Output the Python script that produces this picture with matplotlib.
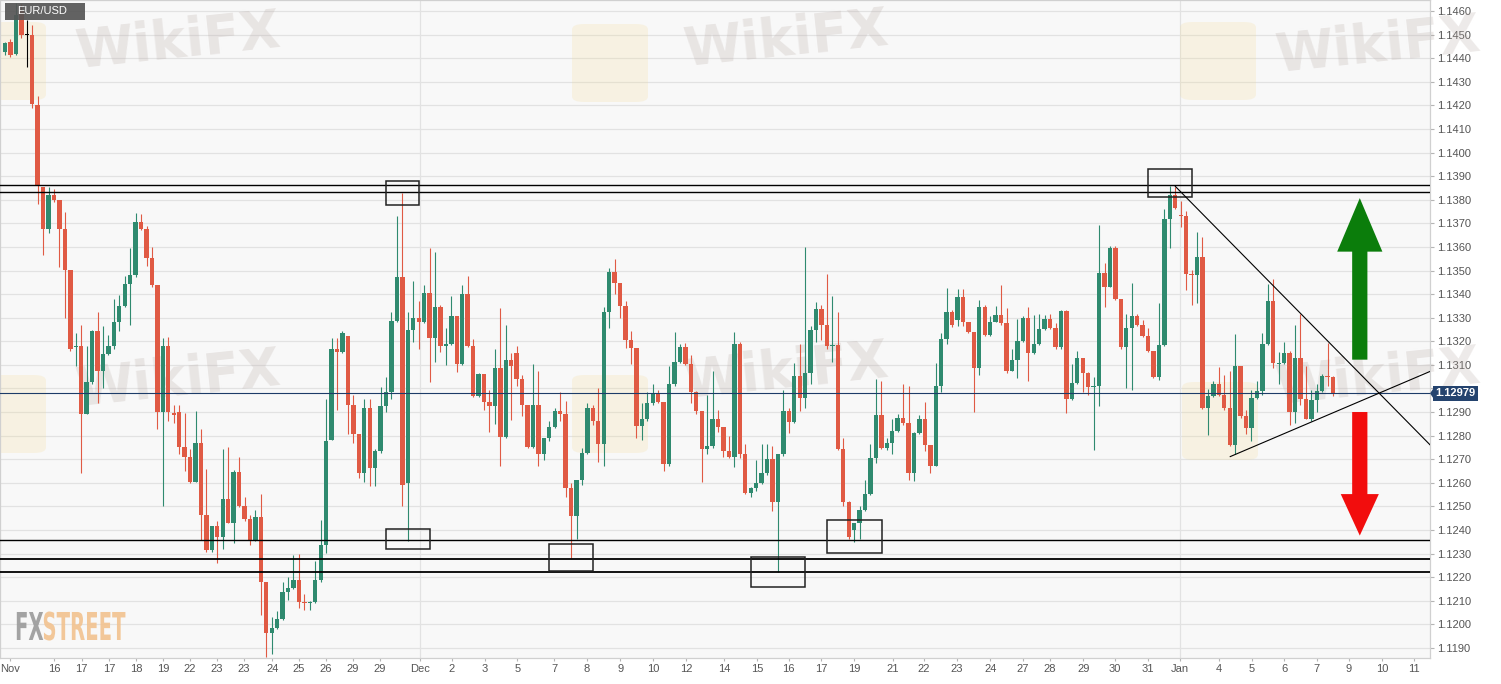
import numpy as np
import matplotlib
matplotlib.use("Agg")
import matplotlib.pyplot as plt
from matplotlib.patches import Rectangle, Polygon, PathPatch, FancyBboxPatch
from matplotlib.textpath import TextPath
from matplotlib.font_manager import FontProperties
from matplotlib.transforms import Affine2D, IdentityTransform, blended_transform_factory
from matplotlib.ticker import FuncFormatter

plt.rcParams['font.family'] = ['Liberation Sans', 'DejaVu Sans']

# EUR/USD 4h candles
opens = [1.14427, 1.14470, 1.14420, 1.14600, 1.14498, 1.14498, 1.14200, 1.13854, 1.13674, 1.13822,
         1.13798, 1.13674, 1.13502, 1.13174, 1.13178, 1.12891, 1.13026, 1.13243, 1.13076, 1.13146,
         1.13178, 1.13280, 1.13348, 1.13443, 1.13480, 1.13706, 1.13678, 1.13552, 1.13437, 1.12900,
         1.13178, 1.12894, 1.12900, 1.12752, 1.12709, 1.12604, 1.12767, 1.12465, 1.12317, 1.12415,
         1.12372, 1.12530, 1.12431, 1.12646, 1.12502, 1.12446, 1.12357, 1.12456, 1.12178, 1.11965,
         1.11983, 1.12024, 1.12137, 1.12154, 1.12187, 1.12094, 1.12089, 1.12094, 1.12187, 1.12335,
         1.12783, 1.13169, 1.13154, 1.13222, 1.12928, 1.12807, 1.12641, 1.12919, 1.12663, 1.12733,
         1.12924, 1.12983, 1.13287, 1.13474, 1.12600, 1.13246, 1.13298, 1.13280, 1.13406, 1.13213,
         1.13344, 1.13178, 1.13187, 1.13307, 1.13102, 1.13400, 1.13178, 1.12969, 1.13061, 1.12941,
         1.12924, 1.13085, 1.12794, 1.13119, 1.13150, 1.13039, 1.12928, 1.12752, 1.12928, 1.12724,
         1.12789, 1.12835, 1.12906, 1.12891, 1.12576, 1.12461, 1.12613, 1.12728, 1.12919, 1.12863,
         1.12765, 1.13326, 1.13493, 1.13446, 1.13348, 1.13206, 1.13172, 1.12841, 1.12869, 1.12937,
         1.12980, 1.12943, 1.12678, 1.13017, 1.13113, 1.13174, 1.13104, 1.12983, 1.12904, 1.12743,
         1.12757, 1.12872, 1.12835, 1.12733, 1.12709, 1.13187, 1.12724, 1.12557, 1.12576, 1.12598,
         1.12641, 1.12702, 1.12520, 1.12720, 1.12906, 1.12857, 1.13054, 1.12961, 1.13067, 1.13248,
         1.13335, 1.13270, 1.13181, 1.13185, 1.12743, 1.12520, 1.12400, 1.12428, 1.12483, 1.12552,
         1.12706, 1.12887, 1.12746, 1.12770, 1.12820, 1.12876, 1.12854, 1.12641, 1.12813, 1.12869,
         1.12761, 1.12672, 1.13011, 1.13209, 1.13326, 1.13290, 1.13387, 1.13283, 1.13239, 1.13085,
         1.13344, 1.13228, 1.13283, 1.13313, 1.13276, 1.13076, 1.13122, 1.13200, 1.13298, 1.13150,
         1.13187, 1.13252, 1.13293, 1.13257, 1.13174, 1.13330, 1.12956, 1.13024, 1.13128, 1.13067,
         1.13006, 1.13011, 1.13489, 1.13431, 1.13594, 1.13381, 1.13174, 1.13257, 1.13307, 1.13270,
         1.13224, 1.13159, 1.13048, 1.13183, 1.13720, 1.13820, 1.13735, 1.13730, 1.13487, 1.13480,
         1.13557, 1.12919, 1.12969, 1.13017, 1.12974, 1.12915, 1.12761, 1.13094, 1.12881, 1.12831,
         1.12961, 1.12987, 1.13187, 1.13372, 1.13102, 1.13107, 1.13150, 1.12900, 1.13131, 1.12956,
         1.12872, 1.12950, 1.12987, 1.13054, 1.13048]

highs = [1.14470, 1.14480, 1.14635, 1.14630, 1.14562, 1.14539, 1.14239, 1.13854, 1.13854, 1.13844,
         1.13798, 1.13748, 1.13502, 1.13233, 1.13270, 1.13178, 1.13248, 1.13322, 1.13265, 1.13228,
         1.13380, 1.13398, 1.13478, 1.13594, 1.13743, 1.13739, 1.13687, 1.13600, 1.13437, 1.13215,
         1.13220, 1.12928, 1.12928, 1.12894, 1.12743, 1.12906, 1.12826, 1.12659, 1.12415, 1.12437,
         1.12743, 1.12752, 1.12654, 1.12711, 1.12539, 1.12465, 1.12483, 1.12554, 1.12178, 1.12030,
         1.12057, 1.12181, 1.12202, 1.12293, 1.12298, 1.12128, 1.12100, 1.12270, 1.12441, 1.12954,
         1.13215, 1.13215, 1.13243, 1.13224, 1.12972, 1.12807, 1.12956, 1.12956, 1.12743, 1.13006,
         1.13048, 1.13326, 1.13730, 1.13830, 1.13326, 1.13456, 1.13372, 1.13437, 1.13594, 1.13580,
         1.13354, 1.13257, 1.13391, 1.13307, 1.13437, 1.13478, 1.13209, 1.13067, 1.13061, 1.12993,
         1.13169, 1.13339, 1.13270, 1.13150, 1.13178, 1.13057, 1.12928, 1.13104, 1.13076, 1.12789,
         1.12863, 1.12919, 1.12983, 1.12946, 1.12598, 1.12613, 1.12746, 1.12937, 1.12928, 1.13002,
         1.13344, 1.13511, 1.13548, 1.13446, 1.13372, 1.13243, 1.13172, 1.12937, 1.12983, 1.13020,
         1.12993, 1.12943, 1.13094, 1.13239, 1.13187, 1.13191, 1.13141, 1.12989, 1.12904, 1.12974,
         1.13072, 1.12909, 1.12835, 1.12798, 1.13239, 1.13196, 1.12765, 1.12580, 1.12696, 1.12765,
         1.12765, 1.12757, 1.12724, 1.12993, 1.12919, 1.13109, 1.13187, 1.13600, 1.13265, 1.13367,
         1.13354, 1.13487, 1.13394, 1.13326, 1.12789, 1.12524, 1.12430, 1.12502, 1.12613, 1.12765,
         1.13039, 1.13030, 1.12789, 1.12869, 1.12891, 1.13020, 1.13011, 1.12817, 1.12887, 1.12941,
         1.12761, 1.13109, 1.13237, 1.13424, 1.13331, 1.13422, 1.13422, 1.13283, 1.13239, 1.13376,
         1.13354, 1.13307, 1.13348, 1.13437, 1.13343, 1.13169, 1.13294, 1.13307, 1.13344, 1.13313,
         1.13317, 1.13313, 1.13317, 1.13276, 1.13331, 1.13331, 1.13104, 1.13159, 1.13128, 1.13070,
         1.13048, 1.13691, 1.13530, 1.13604, 1.13604, 1.13381, 1.13317, 1.13446, 1.13317, 1.13289,
         1.13257, 1.13159, 1.13363, 1.13761, 1.13857, 1.13854, 1.13794, 1.13752, 1.13502, 1.13663,
         1.13641, 1.12998, 1.13030, 1.13091, 1.13057, 1.13076, 1.13230, 1.13094, 1.12909, 1.12993,
         1.13030, 1.13233, 1.13443, 1.13465, 1.13154, 1.13196, 1.13159, 1.13270, 1.13317, 1.13094,
         1.12993, 1.13020, 1.13061, 1.13193, 1.13054]

lows = [1.14412, 1.14405, 1.14415, 1.14487, 1.14364, 1.14187, 1.13780, 1.13567, 1.13659, 1.13789,
        1.13517, 1.13298, 1.13159, 1.13094, 1.12641, 1.12891, 1.13020, 1.12937, 1.13002, 1.13141,
        1.13169, 1.13243, 1.13344, 1.13270, 1.13474, 1.13672, 1.13520, 1.13431, 1.12826, 1.12502,
        1.12863, 1.12854, 1.12724, 1.12650, 1.12598, 1.12604, 1.12359, 1.12307, 1.12307, 1.12261,
        1.12320, 1.12428, 1.12344, 1.12496, 1.12437, 1.12335, 1.12354, 1.12039, 1.11863, 1.11872,
        1.11978, 1.12020, 1.12104, 1.12150, 1.12070, 1.12061, 1.12061, 1.12089, 1.12178, 1.12302,
        1.12780, 1.12909, 1.13150, 1.12807, 1.12770, 1.12622, 1.12604, 1.12585, 1.12585, 1.12728,
        1.12900, 1.12956, 1.13283, 1.12502, 1.12354, 1.13196, 1.13169, 1.13276, 1.13026, 1.13113,
        1.13156, 1.13098, 1.13183, 1.13070, 1.13098, 1.13174, 1.12965, 1.12965, 1.12909, 1.12817,
        1.12850, 1.12669, 1.12789, 1.12865, 1.13011, 1.12881, 1.12746, 1.12746, 1.12669, 1.12696,
        1.12776, 1.12831, 1.12863, 1.12539, 1.12280, 1.12363, 1.12591, 1.12724, 1.12844, 1.12687,
        1.12669, 1.13257, 1.13400, 1.13298, 1.13172, 1.13104, 1.12789, 1.12780, 1.12863, 1.12931,
        1.12937, 1.12650, 1.12672, 1.13011, 1.13109, 1.13098, 1.12937, 1.12891, 1.12604, 1.12724,
        1.12748, 1.12817, 1.12711, 1.12706, 1.12665, 1.12706, 1.12554, 1.12539, 1.12567, 1.12594,
        1.12635, 1.12480, 1.12220, 1.12715, 1.12811, 1.12854, 1.12906, 1.12919, 1.13017, 1.13196,
        1.13206, 1.13169, 1.13113, 1.12739, 1.12502, 1.12361, 1.12348, 1.12363, 1.12480, 1.12548,
        1.12683, 1.12743, 1.12739, 1.12724, 1.12817, 1.12844, 1.12613, 1.12607, 1.12807, 1.12733,
        1.12641, 1.12669, 1.12983, 1.13187, 1.13261, 1.13265, 1.13265, 1.13233, 1.12900, 1.13057,
        1.13224, 1.13224, 1.13280, 1.13270, 1.13067, 1.13072, 1.13043, 1.13196, 1.13030, 1.13146,
        1.13183, 1.13248, 1.13252, 1.13169, 1.13169, 1.12894, 1.12950, 1.13020, 1.12983, 1.12974,
        1.12739, 1.12924, 1.13344, 1.13428, 1.13376, 1.13169, 1.13002, 1.12993, 1.13265, 1.13220,
        1.13154, 1.13043, 1.13035, 1.13178, 1.13594, 1.13761, 1.13683, 1.13419, 1.13354, 1.13363,
        1.12913, 1.12802, 1.12965, 1.12969, 1.12909, 1.12757, 1.12724, 1.12876, 1.12807, 1.12776,
        1.12956, 1.12974, 1.13183, 1.13085, 1.13020, 1.13104, 1.12844, 1.12854, 1.12928, 1.12869,
        1.12863, 1.12900, 1.12983, 1.13011, 1.12969]

closes = [1.14463, 1.14413, 1.14583, 1.14498, 1.14498, 1.14206, 1.13857, 1.13674, 1.13822, 1.13798,
          1.13674, 1.13502, 1.13169, 1.13178, 1.12891, 1.13026, 1.13243, 1.13076, 1.13146, 1.13178,
          1.13280, 1.13348, 1.13443, 1.13480, 1.13706, 1.13678, 1.13552, 1.13437, 1.12900, 1.13178,
          1.12900, 1.12887, 1.12752, 1.12709, 1.12604, 1.12767, 1.12465, 1.12317, 1.12415, 1.12372,
          1.12530, 1.12431, 1.12646, 1.12502, 1.12446, 1.12357, 1.12456, 1.12178, 1.11965, 1.11983,
          1.12024, 1.12137, 1.12154, 1.12187, 1.12094, 1.12089, 1.12094, 1.12187, 1.12335, 1.12776,
          1.13169, 1.13154, 1.13237, 1.12928, 1.12807, 1.12641, 1.12919, 1.12663, 1.12733, 1.12924,
          1.12983, 1.13287, 1.13474, 1.12591, 1.13246, 1.13298, 1.13280, 1.13406, 1.13213, 1.13344,
          1.13178, 1.13187, 1.13307, 1.13102, 1.13400, 1.13178, 1.12969, 1.13061, 1.12941, 1.12924,
          1.13085, 1.12794, 1.13119, 1.13094, 1.13039, 1.12928, 1.12752, 1.12928, 1.12724, 1.12789,
          1.12835, 1.12906, 1.12891, 1.12576, 1.12461, 1.12613, 1.12728, 1.12919, 1.12863, 1.12765,
          1.13326, 1.13493, 1.13446, 1.13348, 1.13206, 1.13172, 1.12841, 1.12869, 1.12937, 1.12980,
          1.12943, 1.12678, 1.13017, 1.13113, 1.13174, 1.13104, 1.12983, 1.12904, 1.12743, 1.12757,
          1.12872, 1.12835, 1.12733, 1.12709, 1.13187, 1.12724, 1.12557, 1.12576, 1.12598, 1.12641,
          1.12702, 1.12520, 1.12720, 1.12906, 1.12857, 1.13054, 1.12961, 1.13067, 1.13248, 1.13335,
          1.13270, 1.13181, 1.13185, 1.12743, 1.12520, 1.12369, 1.12428, 1.12483, 1.12552, 1.12706,
          1.12887, 1.12746, 1.12770, 1.12820, 1.12876, 1.12854, 1.12641, 1.12813, 1.12869, 1.12761,
          1.12672, 1.13011, 1.13209, 1.13326, 1.13270, 1.13387, 1.13283, 1.13239, 1.13085, 1.13344,
          1.13228, 1.13283, 1.13313, 1.13276, 1.13076, 1.13122, 1.13200, 1.13298, 1.13150, 1.13187,
          1.13252, 1.13293, 1.13257, 1.13174, 1.13330, 1.12956, 1.13024, 1.13128, 1.13067, 1.13006,
          1.13011, 1.13489, 1.13431, 1.13594, 1.13381, 1.13174, 1.13257, 1.13307, 1.13270, 1.13224,
          1.13159, 1.13048, 1.13183, 1.13720, 1.13822, 1.13765, 1.13730, 1.13487, 1.13480, 1.13557,
          1.12919, 1.12969, 1.13017, 1.12974, 1.12915, 1.12761, 1.13094, 1.12881, 1.12831, 1.12961,
          1.12987, 1.13187, 1.13372, 1.13107, 1.13107, 1.13150, 1.12900, 1.13131, 1.12956, 1.12872,
          1.12950, 1.12987, 1.13054, 1.13048, 1.12979]

# date labels on the time axis (position = candle number)
tick_pos = [0.9, 9.0, 14.1, 19.1, 24.1, 29.0, 34.0, 38.9, 43.9, 49.1, 54.0, 59.0, 63.9, 68.9,
            76.2, 82.1, 88.2, 94.1, 100.9, 106.9, 113.0, 119.1, 125.1, 132.1, 138.2, 144.0,
            149.9, 156.0, 163.1, 168.8, 174.9, 181.0, 187.0, 192.0, 198.1, 203.9, 210.0,
            215.9, 223.0, 229.1, 235.0, 241.0, 246.9, 253.0, 258.9]
tick_labels = ['Nov', '16', '17', '17', '18', '19', '22', '23', '23', '24', '25', '26', '29', '29',
               'Dec', '2', '3', '5', '7', '8', '9', '10', '12', '14', '15', '16',
               '17', '19', '21', '22', '23', '24', '27', '28', '29', '30', '31',
               'Jan', '4', '5', '6', '7', '9', '10', '11']
month_starts = [76.2, 215.9]

price_ticks = [round(1.1190 + 0.001 * k, 4) for k in range(28)]

# drawn levels
levels = [1.13863, 1.13833, 1.12356, 1.12276, 1.12220]
level_widths = [1.0, 1.0, 1.0, 1.3, 1.3]
last_price = 1.12979

# highlighted boxes: (start candle, end candle, low, high)
boxes = [(70.0, 76.1, 1.13778, 1.13879),
         (70.0, 78.1, 1.12320, 1.12406),
         (99.9, 108.0, 1.12224, 1.12339),
         (137.0, 147.0, 1.12156, 1.12285),
         (151.0, 161.1, 1.12302, 1.12443),
         (210.0, 218.1, 1.13813, 1.13932)]

# triangle lines
down_line_x = [215.0, 261.8]
down_line_y = [1.13857, 1.12761]
up_line_x = [225.1, 261.8]
up_line_y = [1.12711, 1.13072]

GREEN = '#2f8a6f'
RED = '#e05a44'

fig = plt.figure(figsize=(15.01, 6.84), dpi=100)
fig.patch.set_facecolor('white')
ax = fig.add_axes([0.0, 26 / 684, 1430 / 1501, 1 - 26 / 684])
ax.set_facecolor('#f8f8f8')

x = np.arange(len(opens))
o = np.array(opens)
c = np.array(closes)
cols = np.where(c > o, GREEN, np.where(c < o, RED, '#000000'))
body_low = np.minimum(o, c)
body_h = np.maximum(np.abs(c - o), 0.00003)

ax.vlines(x, lows, highs, colors=cols, lw=0.8, zorder=3)
ax.bar(x, body_h, width=0.8, bottom=body_low, color=cols, lw=0, zorder=4)

ax.set_xlim(-0.92, 261.8)
ax.set_ylim(1.11857, 1.14647)


def price_fmt(v, pos):
    # the last-price tag sits on top of this level
    if abs(v - 1.1300) < 1e-6:
        return ''
    return '%.4f' % v


# grid
ax.set_yticks(price_ticks)
ax.yaxis.set_major_formatter(FuncFormatter(price_fmt))
ax.yaxis.grid(True, color='#e2e2e2', lw=0.9)
ax.set_axisbelow(True)
for m in month_starts:
    ax.axvline(m, color='#e2e2e2', lw=0.9, zorder=0.8)

ax.yaxis.tick_right()
ax.tick_params(axis='y', length=3, width=0.8, color='#b5b5b5', labelcolor='#555555',
               labelsize=8, pad=2)
ax.set_xticks(tick_pos)
ax.set_xticklabels(tick_labels)
ax.tick_params(axis='x', length=2.5, width=0.8, color='#b5b5b5', labelcolor='#555555',
               labelsize=8, pad=2)
for s in ax.spines.values():
    s.set_color('#d0d0d0')
    s.set_linewidth(0.9)

# support / resistance
for lv, lw in zip(levels, level_widths):
    ax.axhline(lv, color='black', lw=lw, zorder=5)

# current price
ax.axhline(last_price, color='#1d3c68', lw=0.8, zorder=5)
blend = blended_transform_factory(ax.transAxes, ax.transData)
ax.add_patch(Polygon([(1.0, last_price), (1.0025, last_price + 0.00022),
                      (1.0025, last_price - 0.00022)], closed=True, transform=blend,
                     fc='#24436e', ec='none', clip_on=False, zorder=10))
ax.text(1.0038, last_price, '%.5f' % last_price, transform=blend, ha='left', va='center',
        fontsize=8, fontweight='bold', color='white', zorder=11, clip_on=False,
        bbox=dict(boxstyle='square,pad=0.22', fc='#24436e', ec='none'))

for x0, x1, y0, y1 in boxes:
    ax.add_patch(Rectangle((x0, y0), x1 - x0, y1 - y0, fill=False, ec='#222222', lw=1.1, zorder=6))

ax.plot(down_line_x, down_line_y, color='black', lw=0.8, zorder=6)
ax.plot(up_line_x, up_line_y, color='black', lw=0.8, zorder=6)

# breakout arrows
ax_x = 248.9
shaft = 1.4
ax.add_patch(Polygon([(ax_x - shaft, 1.13122), (ax_x - shaft, 1.13580), (ax_x - 4.15, 1.13580),
                      (ax_x, 1.13807), (ax_x + 4.15, 1.13580), (ax_x + shaft, 1.13580),
                      (ax_x + shaft, 1.13122)], closed=True, fc='#0b7d0b', ec='none', zorder=7))
ax.add_patch(Polygon([(ax_x - shaft, 1.12900), (ax_x - shaft, 1.12552), (ax_x - 3.5, 1.12552),
                      (ax_x, 1.12376), (ax_x + 3.5, 1.12552), (ax_x + shaft, 1.12552),
                      (ax_x + shaft, 1.12900)], closed=True, fc='#f20d0d', ec='none', zorder=7))


def fpos(px, py):
    return px / 1501, 1 - py / 684


# faint watermarks
for (lx, ly) in [(-30, 22), (572, 24), (1180, 22), (-30, 375), (572, 375), (1182, 382)]:
    bx, by = fpos(lx, ly + 78)
    wm = FancyBboxPatch((bx, by), 76 / 1501, 78 / 684, boxstyle='round,pad=0,rounding_size=0.008',
                        transform=fig.transFigure, fc='#f3d98e', ec='none', alpha=0.2, zorder=1)
    wm.set_clip_path(ax.patch)
    ax.add_patch(wm)
for (tx, ty) in [(178, 42), (786, 40), (1378, 46), (178, 380), (786, 372), (1378, 378)]:
    fx, fy = fpos(tx, ty)
    ax.text(fx, fy, 'WikiFX', transform=fig.transFigure, ha='center', va='center',
            fontsize=38, fontweight='bold', color='#b9aca6', alpha=0.25, rotation=6,
            family='DejaVu Sans', zorder=1, clip_on=False)

# FXSTREET logo
fp = FontProperties(family='DejaVu Sans', weight='bold')
tp_fx = TextPath((0, 0), 'FX', size=1, prop=fp)
tp_st = TextPath((0, 0), 'STREET', size=1, prop=fp)
w_fx = tp_fx.get_extents().width
w_st = tp_st.get_extents().width
sy = 28 / 0.729
sx = 109 / (w_fx + w_st + 0.05)
base_y = 684 - 640
fig.add_artist(PathPatch(tp_fx, transform=Affine2D().scale(sx, sy).translate(15, base_y) + IdentityTransform(),
                         fc='#9a9a9a', ec='none', alpha=0.9))
fig.add_artist(PathPatch(tp_st, transform=Affine2D().scale(sx, sy).translate(15 + (w_fx + 0.05) * sx, base_y) + IdentityTransform(),
                         fc='#f2c28f', ec='none', alpha=0.9))

# symbol tag
fig.add_artist(Rectangle(fpos(5, 20), 80 / 1501, 17 / 684, transform=fig.transFigure,
                         fc='#555555', ec='none', alpha=0.92))
fig.text(17 / 1501, 1 - 11.5 / 684, 'EUR/USD', ha='left', va='center', fontsize=8, color='white')

fig.savefig('out.png', dpi=100, facecolor='white')
